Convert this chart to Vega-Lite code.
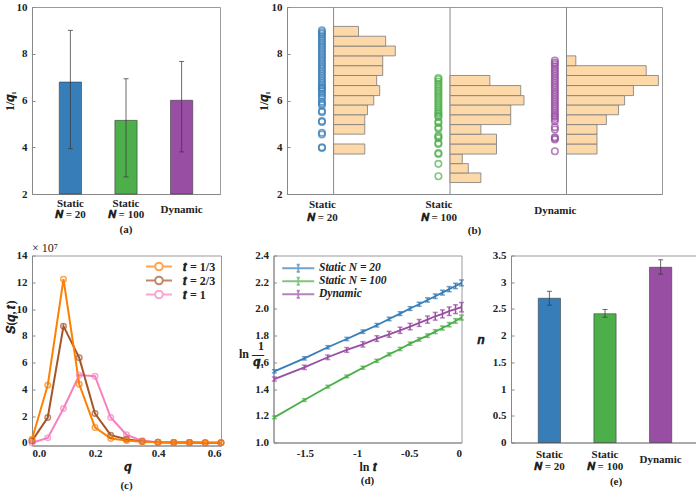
{
  "$schema": "https://vega.github.io/schema/vega-lite/v6.json",
  "background": "white",
  "padding": {"left": 2, "top": 0, "right": 0, "bottom": 0},
  "config": {
    "font": "Liberation Serif",
    "view": {"stroke": "#9a9a9a", "strokeWidth": 1},
    "axis": {
      "grid": false, "labelOverlap": false,
      "labelFont": "Liberation Serif", "labelFontSize": 11, "labelFontWeight": "bold", "labelColor": "#222",
      "titleFont": "Liberation Serif", "titleFontSize": 12, "titleFontWeight": "bold", "titleColor": "#222",
      "domainColor": "#888", "tickColor": "#888"
    },
    "axisY": {"tickSize": -3, "labelPadding": 8},
    "legend": {"labelFont": "Liberation Serif", "labelFontSize": 11.5, "labelFontWeight": "bold", "labelColor": "#222"},
    "title": {"font": "Liberation Serif", "fontSize": 11, "fontWeight": "bold", "color": "#222"}
  },
  "datasets": {
    "bars_a": [
      {"g": "Static N = 20", "m": 6.79, "lo": 3.94, "hi": 9.0},
      {"g": "Static N = 100", "m": 5.15, "lo": 2.73, "hi": 6.93},
      {"g": "Dynamic", "m": 6.01, "lo": 3.8, "hi": 7.67}
    ],
    "bars_e": [
      {"g": "Static N = 20", "m": 2.7, "lo": 2.57, "hi": 2.83},
      {"g": "Static N = 100", "m": 2.41, "lo": 2.345, "hi": 2.49},
      {"g": "Dynamic", "m": 3.28, "lo": 3.15, "hi": 3.42}
    ],
    "lines_b": [{"pos": 1}, {"pos": 2}, {"pos": 3}],
    "hist_b": [
      {"pos": 1, "lo": 3.71, "hi": 4.14, "len": 0.268},
      {"pos": 1, "lo": 4.56, "hi": 4.97, "len": 0.268},
      {"pos": 1, "lo": 4.97, "hi": 5.39, "len": 0.268},
      {"pos": 1, "lo": 5.39, "hi": 5.81, "len": 0.291},
      {"pos": 1, "lo": 5.81, "hi": 6.21, "len": 0.345},
      {"pos": 1, "lo": 6.21, "hi": 6.64, "len": 0.396},
      {"pos": 1, "lo": 6.64, "hi": 7.07, "len": 0.37},
      {"pos": 1, "lo": 7.07, "hi": 7.49, "len": 0.422},
      {"pos": 1, "lo": 7.49, "hi": 7.91, "len": 0.422},
      {"pos": 1, "lo": 7.91, "hi": 8.33, "len": 0.53},
      {"pos": 1, "lo": 8.33, "hi": 8.75, "len": 0.447},
      {"pos": 1, "lo": 8.75, "hi": 9.17, "len": 0.214},
      {"pos": 2, "lo": 2.49, "hi": 2.9, "len": 0.265},
      {"pos": 2, "lo": 2.9, "hi": 3.3, "len": 0.157},
      {"pos": 2, "lo": 3.3, "hi": 3.71, "len": 0.105},
      {"pos": 2, "lo": 3.71, "hi": 4.14, "len": 0.399},
      {"pos": 2, "lo": 4.14, "hi": 4.56, "len": 0.399},
      {"pos": 2, "lo": 4.56, "hi": 4.97, "len": 0.265},
      {"pos": 2, "lo": 4.97, "hi": 5.39, "len": 0.521},
      {"pos": 2, "lo": 5.39, "hi": 5.81, "len": 0.521},
      {"pos": 2, "lo": 5.81, "hi": 6.21, "len": 0.635},
      {"pos": 2, "lo": 6.21, "hi": 6.64, "len": 0.607},
      {"pos": 2, "lo": 6.64, "hi": 7.07, "len": 0.342},
      {"pos": 3, "lo": 3.71, "hi": 4.14, "len": 0.262},
      {"pos": 3, "lo": 4.14, "hi": 4.56, "len": 0.262},
      {"pos": 3, "lo": 4.56, "hi": 4.97, "len": 0.262},
      {"pos": 3, "lo": 4.97, "hi": 5.39, "len": 0.342},
      {"pos": 3, "lo": 5.39, "hi": 5.81, "len": 0.447},
      {"pos": 3, "lo": 5.81, "hi": 6.21, "len": 0.499},
      {"pos": 3, "lo": 6.21, "hi": 6.64, "len": 0.575},
      {"pos": 3, "lo": 6.64, "hi": 7.07, "len": 0.789},
      {"pos": 3, "lo": 7.07, "hi": 7.49, "len": 0.684},
      {"pos": 3, "lo": 7.49, "hi": 7.91, "len": 0.08}
    ],
    "pts_b": [
      {"pos": 1, "v": 3.97}, {"pos": 1, "v": 4.0}, {"pos": 1, "v": 4.55}, {"pos": 1, "v": 4.62},
      {"pos": 1, "v": 5.08}, {"pos": 1, "v": 5.12}, {"pos": 1, "v": 5.5}, {"pos": 1, "v": 5.55},
      {"pos": 1, "v": 5.8}, {"pos": 1, "v": 5.88}, {"pos": 1, "v": 5.95}, {"pos": 1, "v": 6.1},
      {"pos": 1, "v": 6.2}, {"pos": 1, "v": 6.3}, {"pos": 1, "v": 6.4}, {"pos": 1, "v": 6.5},
      {"pos": 1, "v": 6.55}, {"pos": 1, "v": 6.65}, {"pos": 1, "v": 6.75}, {"pos": 1, "v": 6.85},
      {"pos": 1, "v": 6.95}, {"pos": 1, "v": 7.05}, {"pos": 1, "v": 7.15}, {"pos": 1, "v": 7.25},
      {"pos": 1, "v": 7.35}, {"pos": 1, "v": 7.45}, {"pos": 1, "v": 7.55}, {"pos": 1, "v": 7.65},
      {"pos": 1, "v": 7.75}, {"pos": 1, "v": 7.85}, {"pos": 1, "v": 7.95}, {"pos": 1, "v": 8.05},
      {"pos": 1, "v": 8.15}, {"pos": 1, "v": 8.25}, {"pos": 1, "v": 8.35}, {"pos": 1, "v": 8.45},
      {"pos": 1, "v": 8.55}, {"pos": 1, "v": 8.65}, {"pos": 1, "v": 8.75}, {"pos": 1, "v": 8.85},
      {"pos": 1, "v": 8.92}, {"pos": 1, "v": 9.0},
      {"pos": 2, "v": 2.76}, {"pos": 2, "v": 3.29}, {"pos": 2, "v": 3.71}, {"pos": 2, "v": 3.75},
      {"pos": 2, "v": 4.14}, {"pos": 2, "v": 4.18}, {"pos": 2, "v": 4.39}, {"pos": 2, "v": 4.45},
      {"pos": 2, "v": 4.5}, {"pos": 2, "v": 4.79}, {"pos": 2, "v": 4.85}, {"pos": 2, "v": 5.04},
      {"pos": 2, "v": 5.1}, {"pos": 2, "v": 5.29}, {"pos": 2, "v": 5.35}, {"pos": 2, "v": 5.43},
      {"pos": 2, "v": 5.5}, {"pos": 2, "v": 5.6}, {"pos": 2, "v": 5.7}, {"pos": 2, "v": 5.8},
      {"pos": 2, "v": 5.9}, {"pos": 2, "v": 6.0}, {"pos": 2, "v": 6.1}, {"pos": 2, "v": 6.2},
      {"pos": 2, "v": 6.3}, {"pos": 2, "v": 6.4}, {"pos": 2, "v": 6.5}, {"pos": 2, "v": 6.6},
      {"pos": 2, "v": 6.7}, {"pos": 2, "v": 6.8}, {"pos": 2, "v": 6.9}, {"pos": 2, "v": 6.96},
      {"pos": 3, "v": 3.83}, {"pos": 3, "v": 4.33}, {"pos": 3, "v": 4.38}, {"pos": 3, "v": 4.43},
      {"pos": 3, "v": 4.76}, {"pos": 3, "v": 4.86}, {"pos": 3, "v": 5.11}, {"pos": 3, "v": 5.21},
      {"pos": 3, "v": 5.3}, {"pos": 3, "v": 5.36}, {"pos": 3, "v": 5.45}, {"pos": 3, "v": 5.55},
      {"pos": 3, "v": 5.65}, {"pos": 3, "v": 5.75}, {"pos": 3, "v": 5.85}, {"pos": 3, "v": 5.95},
      {"pos": 3, "v": 6.05}, {"pos": 3, "v": 6.15}, {"pos": 3, "v": 6.25}, {"pos": 3, "v": 6.35},
      {"pos": 3, "v": 6.45}, {"pos": 3, "v": 6.55}, {"pos": 3, "v": 6.65}, {"pos": 3, "v": 6.75},
      {"pos": 3, "v": 6.85}, {"pos": 3, "v": 6.95}, {"pos": 3, "v": 7.05}, {"pos": 3, "v": 7.15},
      {"pos": 3, "v": 7.25}, {"pos": 3, "v": 7.35}, {"pos": 3, "v": 7.45}, {"pos": 3, "v": 7.55},
      {"pos": 3, "v": 7.62}, {"pos": 3, "v": 7.71}
    ],
    "s_c": [
      {"q": 0, "t": "1", "s": 0.0}, {"q": 0.05, "t": "1", "s": 0.37}, {"q": 0.1, "t": "1", "s": 2.57},
      {"q": 0.15, "t": "1", "s": 5.06}, {"q": 0.2, "t": "1", "s": 4.98}, {"q": 0.25, "t": "1", "s": 1.89},
      {"q": 0.3, "t": "1", "s": 0.6}, {"q": 0.35, "t": "1", "s": 0.15}, {"q": 0.4, "t": "1", "s": 0.05},
      {"q": 0.45, "t": "1", "s": 0.03}, {"q": 0.5, "t": "1", "s": 0.02}, {"q": 0.55, "t": "1", "s": 0.01},
      {"q": 0.6, "t": "1", "s": 0.01},
      {"q": 0, "t": "2/3", "s": 0.15}, {"q": 0.05, "t": "2/3", "s": 1.89}, {"q": 0.1, "t": "2/3", "s": 8.72},
      {"q": 0.15, "t": "2/3", "s": 6.35}, {"q": 0.2, "t": "2/3", "s": 2.19}, {"q": 0.25, "t": "2/3", "s": 0.57},
      {"q": 0.3, "t": "2/3", "s": 0.27}, {"q": 0.35, "t": "2/3", "s": 0.1}, {"q": 0.4, "t": "2/3", "s": 0.05},
      {"q": 0.45, "t": "2/3", "s": 0.03}, {"q": 0.5, "t": "2/3", "s": 0.02}, {"q": 0.55, "t": "2/3", "s": 0.01},
      {"q": 0.6, "t": "2/3", "s": 0.01},
      {"q": 0, "t": "1/3", "s": 0.27}, {"q": 0.05, "t": "1/3", "s": 4.31}, {"q": 0.1, "t": "1/3", "s": 12.23},
      {"q": 0.15, "t": "1/3", "s": 4.38}, {"q": 0.2, "t": "1/3", "s": 1.15}, {"q": 0.25, "t": "1/3", "s": 0.32},
      {"q": 0.3, "t": "1/3", "s": 0.17}, {"q": 0.35, "t": "1/3", "s": 0.08}, {"q": 0.4, "t": "1/3", "s": 0.05},
      {"q": 0.45, "t": "1/3", "s": 0.03}, {"q": 0.5, "t": "1/3", "s": 0.02}, {"q": 0.55, "t": "1/3", "s": 0.01},
      {"q": 0.6, "t": "1/3", "s": 0.01}
    ],
    "ln_d": [
      {"x": -1.7918, "g": "Static N = 20", "v": 1.533, "e": 0.012},
      {"x": -1.5041, "g": "Static N = 20", "v": 1.63, "e": 0.012},
      {"x": -1.2809, "g": "Static N = 20", "v": 1.713, "e": 0.012},
      {"x": -1.0986, "g": "Static N = 20", "v": 1.775, "e": 0.012},
      {"x": -0.9445, "g": "Static N = 20", "v": 1.83, "e": 0.013},
      {"x": -0.8109, "g": "Static N = 20", "v": 1.878, "e": 0.013},
      {"x": -0.6931, "g": "Static N = 20", "v": 1.925, "e": 0.013},
      {"x": -0.5878, "g": "Static N = 20", "v": 1.965, "e": 0.014},
      {"x": -0.4925, "g": "Static N = 20", "v": 2.003, "e": 0.014},
      {"x": -0.4055, "g": "Static N = 20", "v": 2.035, "e": 0.015},
      {"x": -0.3254, "g": "Static N = 20", "v": 2.067, "e": 0.016},
      {"x": -0.2513, "g": "Static N = 20", "v": 2.095, "e": 0.017},
      {"x": -0.1823, "g": "Static N = 20", "v": 2.122, "e": 0.018},
      {"x": -0.1178, "g": "Static N = 20", "v": 2.148, "e": 0.019},
      {"x": -0.0572, "g": "Static N = 20", "v": 2.172, "e": 0.02},
      {"x": 0, "g": "Static N = 20", "v": 2.195, "e": 0.022},
      {"x": -1.7918, "g": "Static N = 100", "v": 1.188, "e": 0.01},
      {"x": -1.5041, "g": "Static N = 100", "v": 1.318, "e": 0.01},
      {"x": -1.2809, "g": "Static N = 100", "v": 1.418, "e": 0.01},
      {"x": -1.0986, "g": "Static N = 100", "v": 1.495, "e": 0.01},
      {"x": -0.9445, "g": "Static N = 100", "v": 1.56, "e": 0.011},
      {"x": -0.8109, "g": "Static N = 100", "v": 1.612, "e": 0.011},
      {"x": -0.6931, "g": "Static N = 100", "v": 1.66, "e": 0.011},
      {"x": -0.5878, "g": "Static N = 100", "v": 1.7, "e": 0.012},
      {"x": -0.4925, "g": "Static N = 100", "v": 1.74, "e": 0.012},
      {"x": -0.4055, "g": "Static N = 100", "v": 1.772, "e": 0.013},
      {"x": -0.3254, "g": "Static N = 100", "v": 1.8, "e": 0.013},
      {"x": -0.2513, "g": "Static N = 100", "v": 1.83, "e": 0.014},
      {"x": -0.1823, "g": "Static N = 100", "v": 1.857, "e": 0.015},
      {"x": -0.1178, "g": "Static N = 100", "v": 1.882, "e": 0.016},
      {"x": -0.0572, "g": "Static N = 100", "v": 1.91, "e": 0.017},
      {"x": 0, "g": "Static N = 100", "v": 1.935, "e": 0.018},
      {"x": -1.7918, "g": "Dynamic", "v": 1.475, "e": 0.015},
      {"x": -1.5041, "g": "Dynamic", "v": 1.563, "e": 0.016},
      {"x": -1.2809, "g": "Dynamic", "v": 1.638, "e": 0.017},
      {"x": -1.0986, "g": "Dynamic", "v": 1.693, "e": 0.018},
      {"x": -0.9445, "g": "Dynamic", "v": 1.735, "e": 0.02},
      {"x": -0.8109, "g": "Dynamic", "v": 1.778, "e": 0.021},
      {"x": -0.6931, "g": "Dynamic", "v": 1.81, "e": 0.022},
      {"x": -0.5878, "g": "Dynamic", "v": 1.84, "e": 0.023},
      {"x": -0.4925, "g": "Dynamic", "v": 1.868, "e": 0.024},
      {"x": -0.4055, "g": "Dynamic", "v": 1.895, "e": 0.026},
      {"x": -0.3254, "g": "Dynamic", "v": 1.92, "e": 0.027},
      {"x": -0.2513, "g": "Dynamic", "v": 1.945, "e": 0.029},
      {"x": -0.1823, "g": "Dynamic", "v": 1.963, "e": 0.03},
      {"x": -0.1178, "g": "Dynamic", "v": 1.983, "e": 0.032},
      {"x": -0.0572, "g": "Dynamic", "v": 1.998, "e": 0.033},
      {"x": 0, "g": "Dynamic", "v": 2.013, "e": 0.035}
    ]
  },
  "spacing": 3.5,
  "resolve": {"scale": {"color": "independent"}},
  "vconcat": [
    {
      "spacing": 35,
      "resolve": {"scale": {"color": "independent"}},
      "hconcat": [
        {
          "width": 188, "height": 187,
          "title": {"text": "(a)", "orient": "bottom", "anchor": "middle", "offset": 5},
          "data": {"name": "bars_a"},
          "encoding": {
            "x": {"field": "g", "type": "nominal", "sort": null,
              "scale": {"paddingInner": 0.6, "paddingOuter": 0.49},
              "axis": {"title": null, "labelAngle": 0, "ticks": false, "labelBaseline": "middle", "labelLineHeight": 11,
                "labelPadding": {"condition": {"test": "datum.value === 'Dynamic'", "value": 15}, "value": 9},
                "labelExpr": "datum.value == 'Dynamic' ? 'Dynamic' : ['Static', datum.value == 'Static N = 20' ? '𝑵 = 20' : '𝑵 = 100']"}}
          },
          "layer": [
            {
              "mark": {"type": "bar", "stroke": "#333", "strokeOpacity": 0.55, "strokeWidth": 1},
              "encoding": {
                "y": {"field": "m", "type": "quantitative", "title": "1/𝒒₁", "scale": {"domain": [2, 10], "nice": false},
                  "axis": {"values": [2, 4, 6, 8, 10], "labelOverlap": false, "titleX": -16}},
                "y2": {"datum": 2},
                "color": {"field": "g", "type": "nominal",
                  "scale": {"domain": ["Static N = 20", "Static N = 100", "Dynamic"], "range": ["#377eb8", "#4daf4a", "#984ea3"]},
                  "legend": null}
              }
            },
            {
              "mark": {"type": "errorbar", "color": "#3a3a3a", "opacity": 0.75, "thickness": 1, "ticks": {"size": 5}},
              "encoding": {
                "y": {"field": "lo", "type": "quantitative", "title": "1/𝒒₁",
                  "axis": {"values": [2, 4, 6, 8, 10], "labelOverlap": false, "titleX": -16}},
                "y2": {"field": "hi"}
              }
            }
          ]
        },
        {
          "width": 375, "height": 187,
          "title": {"text": "(b)", "orient": "bottom", "anchor": "middle", "offset": 3},
          "layer": [
            {
              "data": {"name": "lines_b"},
              "mark": {"type": "rule", "color": "#8a8a8a", "strokeWidth": 1},
              "encoding": {
                "x": {"field": "pos", "type": "quantitative", "title": null, "scale": {"domain": [0.6, 3.82], "nice": false, "zero": false},
                  "axis": {"values": [0.9, 1.9, 2.9], "ticks": false, "labelBaseline": "middle", "labelLineHeight": 13,
                    "labelPadding": {"condition": {"test": "datum.value > 2.5", "value": 16}, "value": 10},
                    "labelExpr": "datum.value < 1.5 ? ['Static', '𝑵 = 20'] : datum.value < 2.5 ? ['Static', '𝑵 = 100'] : 'Dynamic'"}}
              }
            },
            {
              "data": {"name": "hist_b"},
              "transform": [{"calculate": "datum.pos + datum.len", "as": "end"}],
              "mark": {"type": "rect", "fill": "#fdd9aa", "stroke": "#7a7a7a", "strokeWidth": 0.8},
              "encoding": {
                "x": {"field": "pos", "type": "quantitative", "title": null, "scale": {"domain": [0.6, 3.82], "nice": false, "zero": false}},
                "x2": {"field": "end"},
                "y": {"field": "lo", "type": "quantitative", "title": "1/𝒒₁", "scale": {"domain": [2, 10], "nice": false},
                  "axis": {"values": [2, 4, 6, 8, 10], "labelOverlap": false, "titleX": -17}},
                "y2": {"field": "hi"}
              }
            },
            {
              "data": {"name": "pts_b"},
              "transform": [{"calculate": "datum.pos - 0.1", "as": "xc"}],
              "mark": {"type": "point", "shape": "circle", "filled": false, "size": 42, "strokeWidth": 1.6},
              "encoding": {
                "x": {"field": "xc", "type": "quantitative", "title": null, "scale": {"domain": [0.6, 3.82], "nice": false, "zero": false}},
                "y": {"field": "v", "type": "quantitative", "title": "1/𝒒₁",
                  "axis": {"values": [2, 4, 6, 8, 10], "labelOverlap": false, "titleX": -17}},
                "color": {"field": "pos", "type": "nominal",
                  "scale": {"domain": [1, 2, 3], "range": ["#377eb8", "#4daf4a", "#984ea3"]}, "legend": null}
              }
            }
          ]
        }
      ]
    },
    {
      "spacing": 9.5,
      "resolve": {"scale": {"color": "independent"}},
      "hconcat": [
        {
          "width": 189, "height": 190,
          "title": {"text": "(c)", "orient": "bottom", "anchor": "middle", "offset": 7},
          "encoding": {
            "x": {"field": "q", "type": "quantitative", "title": "𝒒", "scale": {"domain": [0, 0.6], "nice": false},
              "axis": {"values": [0, 0.2, 0.4, 0.6], "ticks": false, "labelPadding": 8, "labelBaseline": "middle", "titleY": 21, "titleBaseline": "middle"}},
            "y": {"field": "s", "type": "quantitative", "title": "𝑺(𝒒, 𝒕)", "scale": {"domain": [-0.2, 14], "nice": false},
              "axis": {"values": [0, 2, 4, 6, 8, 10, 12, 14], "labelOverlap": false, "titleX": -15, "titleY": 61, "titleAlign": "center"}}
          },
          "layer": [
            {
              "data": {"name": "s_c"},
              "encoding": {
                "color": {"field": "t", "type": "nominal",
                  "scale": {"domain": ["1/3", "2/3", "1"], "range": ["#ff7f00", "#a65628", "#f781bf"]},
                  "legend": {"title": null, "orient": "top-right", "offset": 3, "padding": 2, "rowPadding": -9,
                    "symbolType": "M-1,0L1.3,0M3.2,0L5.5,0M3.2,0A0.95,0.95,0,1,1,1.3,0A0.95,0.95,0,1,1,3.2,0",
                    "symbolSize": 64, "symbolStrokeWidth": 2, "labelOffset": 27, "labelFontSize": 12,
                    "labelExpr": "'𝒕 = ' + datum.label"}}
              },
              "layer": [
                {"mark": {"type": "line", "strokeWidth": 2}},
                {"mark": {"type": "point", "shape": "circle", "filled": false, "size": 30, "strokeWidth": 1.5}}
              ]
            },
            {
              "data": {"values": [{"q": 0, "s": 14, "label": "× 10⁷"}]},
              "mark": {"type": "text", "align": "left", "baseline": "bottom", "dy": -1, "font": "Liberation Serif", "fontSize": 12, "color": "#222"},
              "encoding": {"text": {"field": "label"}}
            }
          ]
        },
        {
          "width": 188, "height": 187,
          "title": {"text": "(d)", "orient": "bottom", "anchor": "middle", "offset": 2},
          "data": {"name": "ln_d"},
          "encoding": {
            "x": {"field": "x", "type": "quantitative", "title": "ln 𝒕", "scale": {"domain": [-1.8, 0], "nice": false, "zero": false},
              "axis": {"values": [-1.5, -1, -0.5, 0], "labelExpr": "toString(datum.value)", "ticks": false, "labelPadding": 11, "labelBaseline": "middle", "titleY": 24, "titleBaseline": "middle"}},
            "y": {"field": "v", "type": "quantitative", "title": ["1", "ln —", "𝒒₁"], "scale": {"domain": [1, 2.4], "nice": false, "zero": false},
              "axis": {"values": [1, 1.2, 1.4, 1.6, 1.8, 2, 2.2, 2.4], "format": ".1f", "labelOverlap": false,
                "titleAngle": 0, "titleAlign": "right", "titleBaseline": "middle", "titleX": -10, "titleY": 90, "titleLineHeight": 8}},
            "color": {"field": "g", "type": "nominal",
              "scale": {"domain": ["Static N = 20", "Static N = 100", "Dynamic"], "range": ["#377eb8", "#4daf4a", "#984ea3"]},
              "legend": {"title": null, "orient": "top-left", "offset": 5, "padding": 2, "rowPadding": -12,
                "symbolType": "M-1,0H7M3,-0.9V0.9M2.6,-0.9H3.4M2.6,0.9H3.4",
                "symbolSize": 64, "symbolStrokeWidth": 1.8, "labelOffset": 27, "labelFontSize": 11.5, "labelFontStyle": "italic"}}
          },
          "layer": [
            {"mark": {"type": "line", "strokeWidth": 1.8}},
            {"mark": {"type": "errorbar", "thickness": 1.5, "ticks": {"size": 5}}, "encoding": {"yError": {"field": "e"}}}
          ]
        },
        {
          "width": 188, "height": 187,
          "title": {"text": "(e)", "orient": "bottom", "anchor": "middle", "offset": 4, "dx": 11},
          "data": {"name": "bars_e"},
          "encoding": {
            "x": {"field": "g", "type": "nominal", "sort": null,
              "scale": {"paddingInner": 0.6, "paddingOuter": 0.49},
              "axis": {"title": null, "labelAngle": 0, "ticks": false, "labelBaseline": "middle", "labelLineHeight": 12,
                "labelPadding": {"condition": {"test": "datum.value === 'Dynamic'", "value": 17}, "value": 12},
                "labelExpr": "datum.value == 'Dynamic' ? 'Dynamic' : ['Static', datum.value == 'Static N = 20' ? '𝑵 = 20' : '𝑵 = 100']"}}
          },
          "layer": [
            {
              "mark": {"type": "bar", "stroke": "#333", "strokeOpacity": 0.55, "strokeWidth": 1},
              "encoding": {
                "y": {"field": "m", "type": "quantitative", "title": "𝒏", "scale": {"domain": [0, 3.5], "nice": false},
                  "axis": {"values": [0, 0.5, 1, 1.5, 2, 2.5, 3, 3.5], "format": "~g", "labelOverlap": false,
                    "titleAngle": 0, "titleAlign": "left", "titleBaseline": "middle", "titleX": -34.5, "titleY": 84}},
                "color": {"field": "g", "type": "nominal",
                  "scale": {"domain": ["Static N = 20", "Static N = 100", "Dynamic"], "range": ["#377eb8", "#4daf4a", "#984ea3"]},
                  "legend": null}
              }
            },
            {
              "mark": {"type": "errorbar", "color": "#3a3a3a", "opacity": 0.75, "thickness": 1, "ticks": {"size": 5}},
              "encoding": {
                "y": {"field": "lo", "type": "quantitative", "title": "𝒏",
                  "axis": {"values": [0, 0.5, 1, 1.5, 2, 2.5, 3, 3.5], "format": "~g", "labelOverlap": false,
                    "titleAngle": 0, "titleAlign": "left", "titleBaseline": "middle", "titleX": -34.5, "titleY": 84}},
                "y2": {"field": "hi"}
              }
            }
          ]
        }
      ]
    }
  ]
}
